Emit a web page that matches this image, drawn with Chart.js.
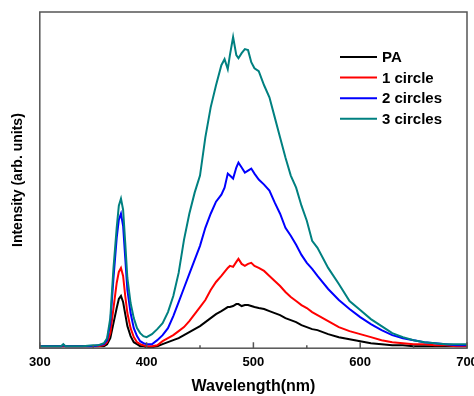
<!DOCTYPE html>
<html>
<head>
<meta charset="utf-8">
<script src="https://cdn.jsdelivr.net/npm/chart.js@4/dist/chart.umd.min.js"></script>
<style>
  html, body { margin: 0; padding: 0; background: #fff; }
  #wrap { width: 474px; height: 396px; }
</style>
</head>
<body>
<div id="wrap"><canvas id="myChart" width="474" height="396"></canvas></div>
<script>
// wavelength samples (nm)
var wavelengths = [300, 310, 320, 322, 324, 330, 340, 350, 355, 360, 363, 366, 369, 372, 374, 376, 378, 380, 382, 385, 388, 391, 394, 397, 400,
  405, 410, 415, 420, 425, 430, 435, 440, 445, 450, 455, 460, 465, 470, 473, 476, 478, 481, 484, 486, 489, 492, 495, 498, 501,
  505, 510, 515, 520, 525, 530, 535, 540, 545, 550, 555, 560, 570, 580, 590, 600, 610, 620, 630, 640, 650, 660, 670, 680, 690, 700];

var paValues = [2, 2, 2, 2, 2, 2, 2, 2, 2, 2, 4, 10, 25, 40, 49, 52, 46, 34, 22, 12, 6, 4, 2, 2, 1,
  1, 2, 4, 6, 8, 10, 13, 16, 19, 22, 26, 30, 34, 37, 39, 41, 41, 42, 44, 44, 42, 43, 43, 42, 41,
  40, 39, 37, 35, 33, 30, 28, 26, 23, 21, 19, 18, 14, 11, 9, 7, 5, 4, 3, 3, 2, 2, 2, 2, 2, 2];

var circle1Values = [2, 2, 2, 2, 2, 2, 2, 2, 2, 3, 6, 15, 40, 65, 76, 80, 72, 52, 35, 20, 11, 6, 4, 3, 2,
  2, 3, 7, 10, 13, 17, 21, 27, 34, 41, 48, 58, 66, 72, 76, 80, 82, 81, 86, 89, 84, 82, 84, 85, 82,
  80, 77, 72, 67, 62, 56, 51, 47, 43, 40, 36, 33, 27, 21, 17, 14, 11, 8, 6, 5, 4, 4, 3, 3, 2, 2];

var circle2Values = [2, 2, 2, 3, 2, 2, 2, 2, 3, 4, 8, 25, 70, 110, 128, 134, 122, 90, 58, 35, 20, 12, 7, 5, 4,
  4, 8, 13, 20, 32, 46, 60, 74, 88, 102, 120, 134, 146, 153, 160, 174, 172, 169, 180, 185, 180, 175, 177, 179, 174,
  168, 163, 157, 145, 134, 120, 112, 103, 93, 85, 79, 72, 59, 48, 39, 31, 24, 18, 13, 10, 8, 6, 5, 4, 3, 3];

var circle3Values = [2, 2, 2, 4, 2, 2, 2, 3, 3, 5, 10, 30, 80, 120, 142, 149, 138, 105, 70, 45, 30, 20, 15, 12, 11,
  14, 19, 25, 36, 52, 75, 108, 134, 155, 172, 210, 240, 262, 282, 288, 278, 292, 310, 292, 289, 294, 298, 297, 285, 279,
  276, 262, 250, 230, 210, 190, 172, 160, 142, 127, 107, 100, 80, 64, 47, 38, 29, 22, 15, 11, 8, 6, 5, 4, 4, 4];

var seriesNames = ['PA', '1 circle', '2 circles', '3 circles'];
var seriesColors = ['#000000', '#ff0000', '#0000ff', '#008080'];
var seriesData = [paValues, circle1Values, circle2Values, circle3Values];

var xMin = 300, xMax = 700, xStep = 100;

function makePoints(vals) {
  var pts = [];
  for (let i = 0; i < wavelengths.length; i++) {
    pts.push({ x: wavelengths[i], y: vals[i] });
  }
  return pts;
}

var datasets = [];
for (let i = 0; i < seriesNames.length; i++) {
  datasets.push({
    label: seriesNames[i],
    data: makePoints(seriesData[i]),
    borderColor: seriesColors[i],
    backgroundColor: seriesColors[i],
    borderWidth: 2,
    pointRadius: 0,
    tension: 0,
    order: seriesNames.length - 1 - i
  });
}

// frame, inward ticks and the legend inside the plot
var framePlugin = {
  id: 'frame',
  afterDraw: function (chart) {
    var ctx = chart.ctx;
    var a = chart.chartArea;
    var xs = chart.scales.x;
    ctx.save();
    ctx.strokeStyle = '#555';
    ctx.lineWidth = 1.5;
    ctx.strokeRect(a.left, a.top, a.right - a.left, a.bottom - a.top);

    ctx.beginPath();
    for (let v = xMin; v <= xMax; v += xStep / 2) {
      var px = xs.getPixelForValue(v);
      var len = (v % xStep === 0) ? 6 : 3;
      ctx.moveTo(px, a.bottom);
      ctx.lineTo(px, a.bottom - len);
    }
    ctx.stroke();

    // legend
    ctx.font = 'bold 15px "Liberation Sans", Arial, sans-serif';
    ctx.textBaseline = 'middle';
    ctx.textAlign = 'left';
    for (let i = 0; i < seriesNames.length; i++) {
      var y = 57 + i * 20.6;
      ctx.strokeStyle = seriesColors[i];
      ctx.lineWidth = 2;
      ctx.beginPath();
      ctx.moveTo(340, y);
      ctx.lineTo(377, y);
      ctx.stroke();
      ctx.fillStyle = '#000';
      ctx.fillText(seriesNames[i], 382, y + 1);
    }
    ctx.restore();
  }
};

var ctx = document.getElementById('myChart').getContext('2d');
var myChart = new Chart(ctx, {
  type: 'line',
  data: { datasets: datasets },
  options: {
    responsive: false,
    animation: false,
    layout: { padding: { top: 12, right: 7, left: 0, bottom: 0 } },
    plugins: { legend: { display: false }, tooltip: { enabled: false } },
    scales: {
      x: {
        type: 'linear',
        min: xMin,
        max: xMax,
        ticks: {
          stepSize: xStep,
          padding: 6,
          color: '#000',
          font: { family: '"Liberation Sans", Arial, sans-serif', size: 13, weight: 'bold' }
        },
        grid: { display: false, drawTicks: false },
        border: { display: false },
        title: {
          display: true,
          text: 'Wavelength(nm)',
          color: '#000',
          padding: { top: 1, bottom: 0 },
          font: { family: '"Liberation Sans", Arial, sans-serif', size: 16, weight: 'bold' }
        },
        afterFit: function (scale) {
          scale.paddingLeft = 0;
          scale.paddingRight = 0;
        }
      },
      y: {
        min: 0,
        max: 335,
        ticks: { display: false },
        grid: { display: false, drawTicks: false },
        border: { display: false },
        title: {
          display: true,
          text: 'Intensity (arb. units)',
          color: '#000',
          padding: { top: 10, bottom: 13 },
          font: { family: '"Liberation Sans", Arial, sans-serif', size: 14, weight: 'bold' }
        }
      }
    }
  },
  plugins: [framePlugin]
});
</script>
</body>
</html>
